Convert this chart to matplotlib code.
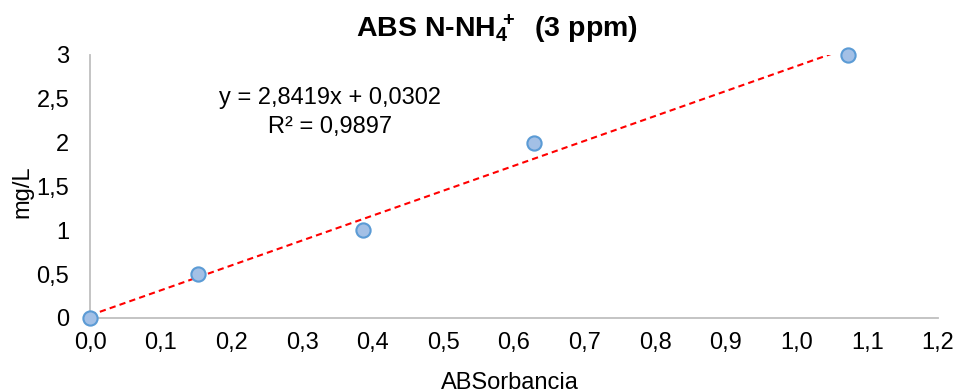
import matplotlib.pyplot as plt
import numpy as np

plt.rcParams['font.family'] = ['Liberation Sans', 'DejaVu Sans']
plt.rcParams['mathtext.fontset'] = 'custom'
plt.rcParams['mathtext.rm'] = 'Liberation Sans'
plt.rcParams['mathtext.bf'] = 'Liberation Sans:bold'
plt.rcParams['mathtext.default'] = 'bf'

# data
absorbancia = [0.0, 0.153, 0.386, 0.628, 1.072]
mg_l = [0.0, 0.5, 1.0, 2.0, 3.0]
slope = 2.8419
intercept = 0.0302
r2 = 0.9897

x_ticks = [0.0, 0.1, 0.2, 0.3, 0.4, 0.5, 0.6, 0.7, 0.8, 0.9, 1.0, 1.1, 1.2]
y_ticks = [0, 0.5, 1, 1.5, 2, 2.5, 3]

fig = plt.figure(figsize=(9.65, 3.92), dpi=100)
ax = fig.add_axes([0.0933, 0.189, 0.8787, 0.671])

# trendline (clipped at the top of the axis like in Excel)
xl = np.array([min(absorbancia), max(absorbancia)])
ax.plot(xl, slope * xl + intercept, color='#FF0000', lw=1.5,
        linestyle=(0, (3, 2)), zorder=2)

ax.scatter(absorbancia, mg_l, s=105, color='#A3C0E6', edgecolor='#5B9BD5',
           linewidth=1.5, zorder=3, clip_on=False)

ax.set_xlim(0, 1.2)
ax.set_ylim(0, 3)
ax.set_xticks(x_ticks)
ax.set_xticklabels([f"{t:.1f}".replace('.', ',') for t in x_ticks])
ax.set_yticks(y_ticks)
ax.set_yticklabels([f"{t:g}".replace('.', ',') for t in y_ticks])
ax.tick_params(length=0, labelsize=17, colors='#000000')
ax.tick_params(axis='x', pad=10)
ax.tick_params(axis='y', pad=15)

for s in ['top', 'right']:
    ax.spines[s].set_visible(False)
for s in ['left', 'bottom']:
    ax.spines[s].set_color('#BFBFBF')
    ax.spines[s].set_linewidth(1.3)
    ax.spines[s].set_zorder(1)

ax.text(0.34, 2.34, f"y = {slope:.4f}x + {intercept:.4f}\nR² = {r2:.4f}".replace('.', ','),
        ha='center', va='center', fontsize=17, linespacing=1.4)

ax.set_xlabel('ABSorbancia', fontsize=17)
ax.xaxis.set_label_coords(0.495, -0.205)
ax.set_ylabel('mg/L', fontsize=17)
ax.yaxis.set_label_coords(-0.067, 0.48)

fig.text(0.515, 0.925, r"ABS N-NH$_4\!\!{}^+$  (3 ppm)", ha='center', va='center',
         fontsize=20.5, fontweight='bold')

fig.savefig('out.png', dpi=100)
plt.close(fig)
